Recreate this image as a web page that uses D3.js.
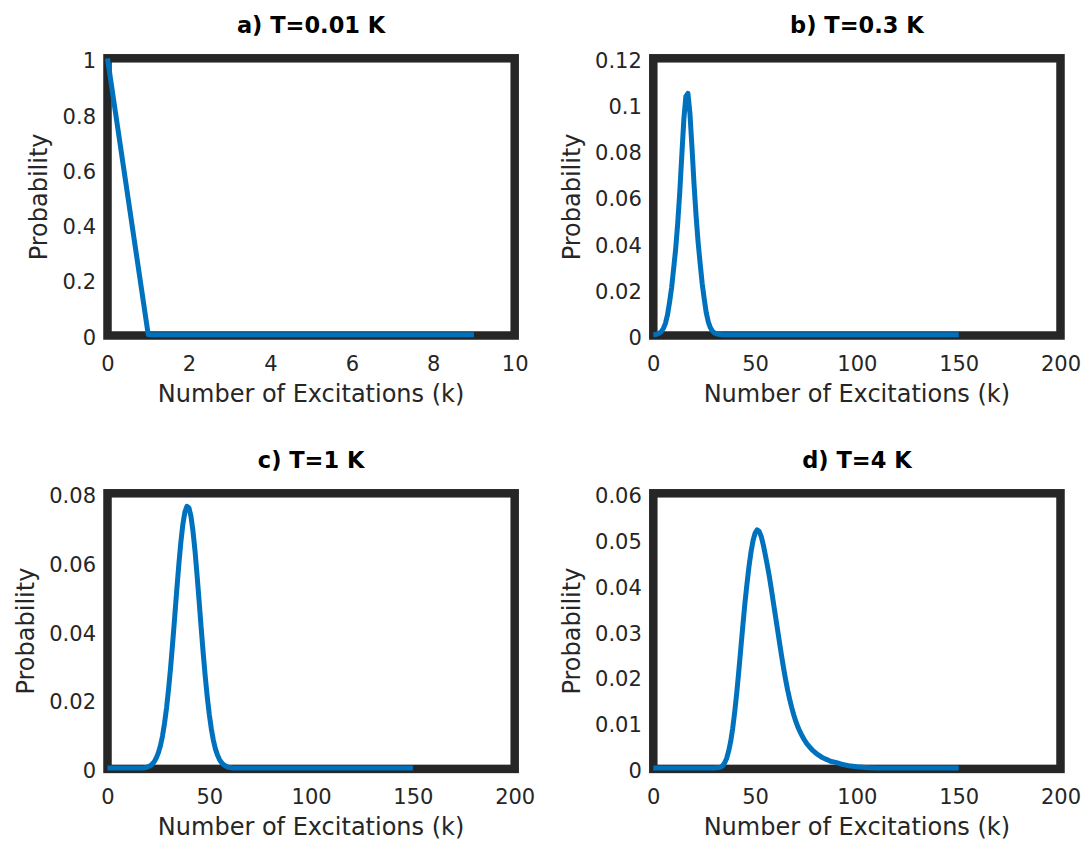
<!DOCTYPE html>
<html>
<head>
<meta charset="utf-8">
<script src="https://cdn.jsdelivr.net/npm/d3@7"></script>
<style>
  html, body { margin: 0; padding: 0; background: #ffffff; }
  svg { display: block; }
</style>
</head>
<body>
<svg id="chart" width="1086" height="848"></svg>
<script>
// ---------------- data ----------------
const titles = ["a) T=0.01 K", "b) T=0.3 K", "c) T=1 K", "d) T=4 K"];
const xLabel = "Number of Excitations (k)";
const yLabel = "Probability";

const xTicksA = [0, 2, 4, 6, 8, 10];
const xTicksBCD = [0, 50, 100, 150, 200];
const yTicksA = [0, 0.2, 0.4, 0.6, 0.8, 1];
const yTicksB = [0, 0.02, 0.04, 0.06, 0.08, 0.1, 0.12];
const yTicksC = [0, 0.02, 0.04, 0.06, 0.08];
const yTicksD = [0, 0.01, 0.02, 0.03, 0.04, 0.05, 0.06];

// panel a: T = 0.01 K
const kA = [0, 1, 2, 3, 4, 5, 6, 7, 8, 9];
const pA = [1, 0, 0, 0, 0, 0, 0, 0, 0, 0];

// panel b: T = 0.3 K
const kB = [0, 1, 2, 3, 4, 5, 6, 7, 8, 9, 10, 11, 12, 13, 14, 15, 16, 17, 18, 19,
            20, 21, 22, 23, 24, 25, 26, 27, 28, 29, 30, 31, 32, 33, 34, 150];
const pB = [0, 0.0001, 0.0003, 0.0007, 0.0014, 0.0028, 0.0050, 0.0087, 0.0142, 0.0205,
            0.0287, 0.0374, 0.0485, 0.0619, 0.0778, 0.0934, 0.1035, 0.1048, 0.0960, 0.0813,
            0.0655, 0.0518, 0.0402, 0.0310, 0.0223, 0.0156, 0.0096, 0.0056, 0.0031, 0.0016,
            0.0008, 0.0004, 0.0002, 0.0001, 0, 0];

// panel c: T = 1 K
const kC = [0, 17, 18, 19, 20, 21, 22, 23, 24, 25, 26, 27, 28, 29, 30, 31, 32, 33, 34, 35,
            36, 37, 38, 39, 40, 41, 42, 43, 44, 45, 46, 47, 48, 49, 50, 51, 52, 53, 54, 55,
            56, 57, 58, 59, 60, 61, 62, 150];
const pC = [0, 0, 0.0001, 0.0002, 0.0004, 0.0007, 0.0012, 0.0019, 0.0030, 0.0045,
            0.0065, 0.0093, 0.0130, 0.0175, 0.0230, 0.0293, 0.0364, 0.0439, 0.0517, 0.0590,
            0.0656, 0.0709, 0.0745, 0.0762, 0.0758, 0.0733, 0.0689, 0.0631, 0.0561, 0.0486,
            0.0409, 0.0335, 0.0267, 0.0207, 0.0156, 0.0114, 0.0081, 0.0056, 0.0038, 0.0025,
            0.0016, 0.0010, 0.0006, 0.0003, 0.0002, 0.0001, 0, 0];

// panel d: T = 4 K
const kD = [0, 30, 31, 32, 33, 34, 35, 36, 37, 38, 39, 40, 41, 42, 43, 44, 45, 46, 47, 48,
            49, 50, 51, 52, 53, 54, 55, 56, 57, 58, 59, 60, 61, 62, 63, 64, 65, 66, 67, 68,
            69, 70, 71, 72, 73, 74, 75, 76, 77, 78, 79, 80, 81, 82, 83, 84, 85, 86, 87, 88,
            89, 90, 92, 94, 96, 98, 100, 103, 106, 110, 150];
const pD = [0, 0, 0.0001, 0.0001, 0.0002, 0.0005, 0.0011, 0.0021, 0.0037, 0.0058,
            0.0087, 0.0123, 0.0165, 0.0212, 0.0262, 0.0312, 0.0360, 0.0402, 0.0440, 0.0472,
            0.0497, 0.0513, 0.0520, 0.0517, 0.0506, 0.0488, 0.0466, 0.0443, 0.0418, 0.0390,
            0.0361, 0.0332, 0.0303, 0.0274, 0.0245, 0.0218, 0.0193, 0.0170, 0.0150, 0.0132,
            0.0116, 0.0102, 0.0090, 0.0080, 0.0071, 0.0063, 0.0056, 0.0050, 0.0045, 0.0040,
            0.0036, 0.0032, 0.0029, 0.0026, 0.0023, 0.0021, 0.0019, 0.0017, 0.0015, 0.0014,
            0.0013, 0.0012, 0.0009, 0.0007, 0.0005, 0.0004, 0.0003, 0.0002, 0.0001, 0, 0];

// ---------------- layout ----------------
const FRAME = "#262626";
const LINE = "#0072BD";
const FONT = "'DejaVu Sans', sans-serif";

const panels = [
  { title: titles[0], ks: kA, ps: pA, xd: [0, 10],  xt: xTicksA,   yd: [0, 1],    yt: yTicksA, left: 107.5, right: 514.7, top: 58.3,  bottom: 335.5 },
  { title: titles[1], ks: kB, ps: pB, xd: [0, 200], xt: xTicksBCD, yd: [0, 0.12], yt: yTicksB, left: 653.3, right: 1060.5, top: 58.3, bottom: 335.5 },
  { title: titles[2], ks: kC, ps: pC, xd: [0, 200], xt: xTicksBCD, yd: [0, 0.08], yt: yTicksC, left: 107.5, right: 514.7, top: 493.3, bottom: 768.9 },
  { title: titles[3], ks: kD, ps: pD, xd: [0, 200], xt: xTicksBCD, yd: [0, 0.06], yt: yTicksD, left: 653.3, right: 1060.5, top: 493.3, bottom: 768.9 }
];

const svg = d3.select("#chart");
svg.append("rect").attr("width", 1086).attr("height", 848).attr("fill", "#ffffff");

const fmt = d => String(+d.toFixed(4));

panels.forEach(cfg => {
  const x = d3.scaleLinear().domain(cfg.xd).range([cfg.left, cfg.right]);
  const y = d3.scaleLinear().domain(cfg.yd).range([cfg.bottom - 0.8, cfg.top]);
  const g = svg.append("g");

  // x axis tick labels
  const xa = g.append("g")
    .attr("transform", `translate(0,${cfg.bottom})`)
    .call(d3.axisBottom(x).tickValues(cfg.xt).tickSize(0).tickPadding(20.6).tickFormat(fmt));
  xa.select(".domain").remove();
  xa.selectAll("text")
    .attr("font-family", FONT).attr("font-size", 21).attr("fill", FRAME);

  // y axis tick labels
  const ya = g.append("g")
    .attr("transform", `translate(${cfg.left},0)`)
    .call(d3.axisLeft(y).tickValues(cfg.yt).tickSize(0).tickPadding(11.5).tickFormat(fmt));
  ya.select(".domain").remove();
  ya.selectAll("text")
    .attr("font-family", FONT).attr("font-size", 21).attr("fill", FRAME).attr("dy", "0.45em");

  let maxW = 0;
  ya.selectAll("text").each(function () { maxW = Math.max(maxW, this.getComputedTextLength()); });

  // frame
  g.append("rect")
    .attr("x", cfg.left).attr("y", cfg.top)
    .attr("width", cfg.right - cfg.left).attr("height", cfg.bottom - cfg.top)
    .attr("fill", "none").attr("stroke", FRAME).attr("stroke-width", 8.5);

  // data line
  const idx = d3.range(cfg.ks.length);
  const line = d3.line().x(i => x(cfg.ks[i])).y(i => y(cfg.ps[i]));
  g.append("path")
    .attr("d", line(idx))
    .attr("fill", "none").attr("stroke", LINE).attr("stroke-width", 5)
    .attr("stroke-linejoin", "round").attr("stroke-linecap", "butt");

  // title
  g.append("text")
    .attr("x", (cfg.left + cfg.right) / 2).attr("y", cfg.top - 25.5)
    .attr("text-anchor", "middle")
    .attr("font-family", FONT).attr("font-weight", "bold").attr("font-size", 22.5)
    .attr("fill", "#000000")
    .text(cfg.title);

  // x label
  g.append("text")
    .attr("x", (cfg.left + cfg.right) / 2).attr("y", cfg.bottom + 66.5)
    .attr("text-anchor", "middle")
    .attr("font-family", FONT).attr("font-size", 24).attr("fill", FRAME)
    .text(xLabel);

  // y label
  const yl = cfg.left - 11.5 - maxW - 15.5;
  g.append("text")
    .attr("transform", `translate(${yl},${(cfg.top + cfg.bottom) / 2}) rotate(-90)`)
    .attr("text-anchor", "middle")
    .attr("font-family", FONT).attr("font-size", 24).attr("fill", FRAME)
    .text(yLabel);
});
</script>
</body>
</html>
